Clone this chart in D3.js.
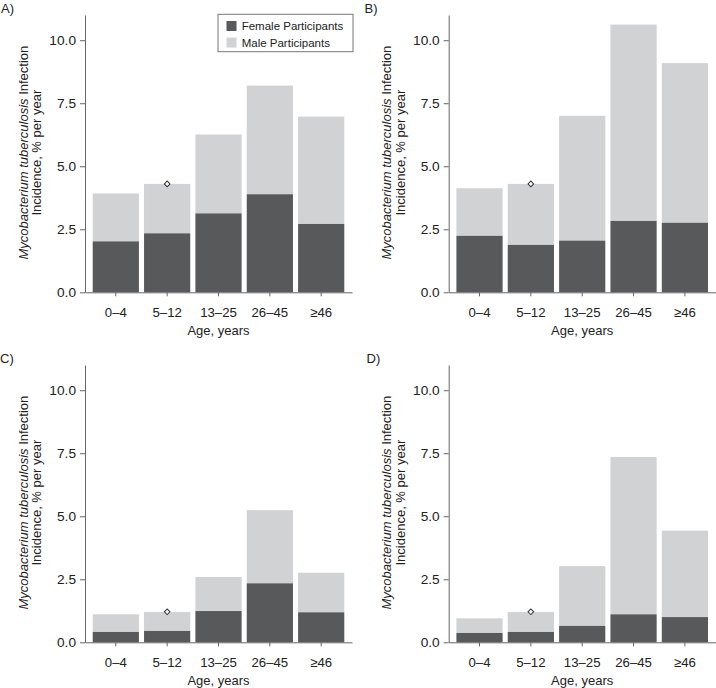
<!DOCTYPE html>
<html>
<head>
<meta charset="utf-8">
<script src="https://cdn.jsdelivr.net/npm/d3@7"></script>
<style>
  html, body { margin: 0; padding: 0; background: #fff; }
  svg { display: block; font-family: "Liberation Sans", Arial, Helvetica, sans-serif; }
</style>
</head>
<body>
<svg id="chart" width="716" height="688"></svg>
<script>
// ---- data ----
const ageGroups = ["0–4", "5–12", "13–25", "26–45", "≥46"];
const panelLabels = ["A)", "B)", "C)", "D)"];
// female participants (bottom segment) and total (top of stacked bar)
const femaleA = [2.02, 2.34, 3.13, 3.89, 2.71];
const totalA  = [3.92, 4.30, 6.26, 8.20, 6.97];
const femaleB = [2.24, 1.88, 2.05, 2.83, 2.76];
const totalB  = [4.13, 4.30, 7.00, 10.62, 9.09];
const femaleC = [0.41, 0.45, 1.24, 2.34, 1.19];
const totalC  = [1.11, 1.20, 2.59, 5.24, 2.76];
const femaleD = [0.37, 0.41, 0.65, 1.11, 1.00];
const totalD  = [0.95, 1.20, 3.02, 7.35, 4.43];
const markerGroup = "5–12";
const markerValues = [4.30, 4.30, 1.21, 1.21];
const yTicks = [0, 2.5, 5.0, 7.5, 10.0];
const yMax = 11;
const seriesNames = ["Female Participants", "Male Participants"];

const femaleSets = [femaleA, femaleB, femaleC, femaleD];
const totalSets = [totalA, totalB, totalC, totalD];

// ---- styling ----
const darkCol = "#58595b";
const lightCol = "#d1d2d4";
const axisCol = "#666";
const textCol = "#222";

const panels = [
  { ax: 85,    top: 15,  base: 292.3, lx: 1,     ly: 13.3 },
  { ax: 448.7, top: 15,  base: 292.3, lx: 364.5, ly: 13.3 },
  { ax: 85,    top: 365, base: 642.3, lx: 0,     ly: 363.3 },
  { ax: 448.7, top: 365, base: 642.3, lx: 366.5, ly: 363.3 }
];
const plotW = 267;

const svg = d3.select("#chart");

panels.forEach((p, i) => {
  const g = svg.append("g");
  const x = d3.scaleBand().domain(ageGroups).range([p.ax, p.ax + plotW])
    .paddingInner(0.1).paddingOuter(0.15);
  const y = d3.scaleLinear().domain([0, yMax]).range([p.base, p.top]);

  const fem = femaleSets[i], tot = totalSets[i];
  const rows = ageGroups.map((a, k) => ({ age: a, female: fem[k], total: tot[k] }));

  // male (upper segment): from female to total
  g.selectAll("rect.male").data(rows).join("rect")
    .attr("class", "male")
    .attr("x", d => x(d.age)).attr("width", x.bandwidth())
    .attr("y", d => y(d.total)).attr("height", d => y(d.female) - y(d.total))
    .attr("fill", lightCol);
  // female (lower segment)
  g.selectAll("rect.female").data(rows).join("rect")
    .attr("class", "female")
    .attr("x", d => x(d.age)).attr("width", x.bandwidth())
    .attr("y", d => y(d.female)).attr("height", d => y(0) - y(d.female))
    .attr("fill", darkCol);

  // marker
  g.append("path")
    .attr("d", d3.symbol(d3.symbolSquare, 16)())
    .attr("transform", `translate(${x(markerGroup) + x.bandwidth() / 2},${y(markerValues[i])}) rotate(45)`)
    .attr("fill", "#fff").attr("stroke", "#333").attr("stroke-width", 1);

  // y axis
  const yAxis = g.append("g").attr("transform", `translate(${p.ax},0)`)
    .call(d3.axisLeft(y).tickValues(yTicks).tickFormat(d3.format(".1f")).tickSize(5).tickPadding(4).tickSizeOuter(0));
  yAxis.select(".domain").attr("stroke", axisCol);
  yAxis.selectAll(".tick line").attr("stroke", axisCol);
  yAxis.selectAll(".tick text").attr("fill", textCol).style("font-size", "13.7px").style("font-family", "Liberation Sans, Arial, sans-serif");

  // x axis
  const xAxis = g.append("g").attr("transform", `translate(0,${p.base})`)
    .call(d3.axisBottom(x).tickSize(4).tickPadding(11.5).tickSizeOuter(0));
  xAxis.select(".domain").attr("stroke", axisCol);
  xAxis.selectAll(".tick line").attr("stroke", axisCol);
  xAxis.selectAll(".tick text").attr("fill", textCol).style("font-size", "13.2px").style("font-family", "Liberation Sans, Arial, sans-serif");

  // x title
  g.append("text").attr("x", p.ax + plotW / 2).attr("y", p.base + 42.5)
    .attr("text-anchor", "middle").attr("fill", textCol).style("font-size", "13px")
    .text("Age, years");

  // y title (two lines)
  const cy = (p.top + p.base) / 2 - 1;
  const yt = g.append("text").attr("transform", `translate(${p.ax - 57.5},${cy}) rotate(-90)`)
    .attr("text-anchor", "middle").attr("fill", textCol).style("font-size", "13px");
  yt.append("tspan").style("font-style", "italic").text("Mycobacterium tuberculosis");
  yt.append("tspan").text(" Infection");
  g.append("text").attr("transform", `translate(${p.ax - 44},${cy}) rotate(-90)`)
    .attr("text-anchor", "middle").attr("fill", textCol).style("font-size", "13px")
    .text("Incidence, % per year");

  // panel label
  g.append("text").attr("x", p.lx).attr("y", p.ly).attr("fill", textCol)
    .style("font-size", "13px").text(panelLabels[i]);

  // legend only in panel A
  if (i === 0) {
    const lg = g.append("g");
    lg.append("rect").attr("x", 218).attr("y", 14.3).attr("width", 135).attr("height", 37.4)
      .attr("fill", "#fff").attr("stroke", "#777").attr("stroke-width", 1);
    [darkCol, lightCol].forEach((c, k) => {
      lg.append("rect").attr("x", 226.5).attr("y", 21 + k * 16.5).attr("width", 10).attr("height", 10).attr("fill", c);
      lg.append("text").attr("x", 241.7).attr("y", 30.3 + k * 16.5).attr("fill", textCol)
        .style("font-size", "11.5px").text(seriesNames[k]);
    });
  }
});
</script>
</body>
</html>
